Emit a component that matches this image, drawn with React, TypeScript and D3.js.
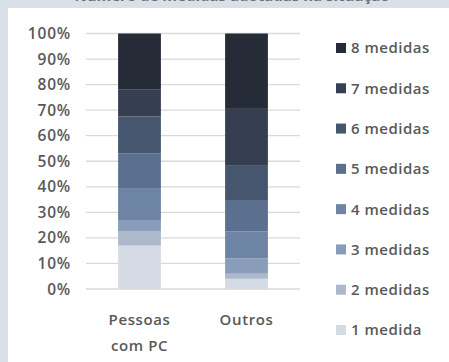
import React from "react";
import * as d3 from "d3";

const categories = ["Pessoas com PC", "Outros"];
const categoryLines = [["Pessoas", "com PC"], ["Outros"]];
const seriesNames = ["1 medida", "2 medidas", "3 medidas", "4 medidas", "5 medidas", "6 medidas", "7 medidas", "8 medidas"];
const pessoasComPC = [17, 5.5, 4.5, 12.5, 13.5, 14.5, 10.5, 22];
const outros = [4, 2, 6, 10.5, 12, 14, 22, 29.5];
const yTicks = [0, 10, 20, 30, 40, 50, 60, 70, 80, 90, 100];
const colors = ["#d5dbe5", "#adb8ca", "#899cb8", "#6e84a4", "#5b6f8f", "#47566f", "#353f51", "#252c38"];
const title = "Número de medidas adotadas na situação";

export default function App() {
  const W = 449, H = 362;
  const font = "'Open Sans', sans-serif";
  const rows = categories.map((c, ci) => {
    const vals = ci === 0 ? pessoasComPC : outros;
    const r: any = { cat: c };
    seriesNames.forEach((s, i) => (r[s] = vals[i]));
    return r;
  });
  const stacked = d3.stack().keys(seriesNames)(rows);
  const y = d3.scaleLinear().domain([0, 100]).range([289, 33.5]);
  const x = d3.scaleBand().domain(categories).range([86, 300]).paddingInner(0.6).paddingOuter(0.3);
  const legendY = d3.scaleLinear().domain([0, 7]).range([48, 330]);
  const legendOrder = seriesNames.slice().reverse();

  return (
    <svg width={W} height={H} style={{ position: "absolute", left: 0, top: 0 }} fontFamily={font}>
      <rect x={0} y={0} width={W} height={H} fill="#dae0e8" />
      <rect x={8} y={8} width={W - 8} height={H - 8} fill="#ffffff" />
      <text x={232} y={1} textAnchor="middle" fontSize={15} fontWeight="bold" fill="#6f6f6f">{title}</text>
      {yTicks.map((t) => (
        <g key={t}>
          <line x1={86} x2={300} y1={y(t)} y2={y(t)} stroke="#d9d9d9" strokeWidth={1.3} />
          <text x={71} y={y(t)} dy="0.36em" textAnchor="end" fontSize={15.5} fontWeight={600} letterSpacing={0.8} fill="#595959">{t + "%"}</text>
        </g>
      ))}
      {stacked.map((layer, li) => (
        <g key={layer.key} fill={colors[li]}>
          {layer.map((d: any, i: number) => (
            <rect key={i} x={x(categories[i])} width={x.bandwidth()} y={y(d[1])} height={y(d[0]) - y(d[1])} />
          ))}
        </g>
      ))}
      {categories.map((c, ci) => (
        <text key={c} textAnchor="middle" fontSize={15} fontWeight={600} letterSpacing={0.6} fill="#595959">
          {categoryLines[ci].map((ln, li) => (
            <tspan key={li} x={(x(c) as number) + x.bandwidth() / 2} y={325 + li * 26}>{ln}</tspan>
          ))}
        </text>
      ))}
      {legendOrder.map((s, i) => (
        <g key={s} transform={`translate(336,${legendY(i)})`}>
          <rect x={0} y={-5} width={10} height={10} fill={colors[seriesNames.indexOf(s)]} />
          <text x={15} y={0} dy="0.36em" fontSize={15} fontWeight={600} letterSpacing={0.5} fill="#595959">{s}</text>
        </g>
      ))}
    </svg>
  );
}
